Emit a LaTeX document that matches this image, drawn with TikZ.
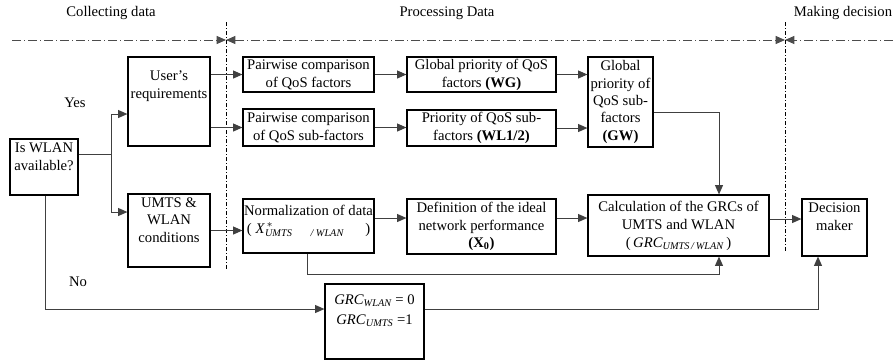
\documentclass[tikz,border=0pt]{standalone}
\usepackage{fontspec}
\setmainfont{Liberation Serif}
\usepackage{amsmath}
\usetikzlibrary{arrows.meta}

\begin{document}
\begin{tikzpicture}[x=0.75pt,y=-0.75pt,>={Triangle[length=7pt,width=6pt]},
                    font=\fontsize{11}{13.5}\selectfont,
                    box/.style={draw,line width=0.9pt,align=center,inner sep=0pt},
                    inbox/.style={anchor=north,align=center,inner sep=0pt,yshift=#1},
                    conn/.style={->,line width=0.75pt,draw=black!75},
                    phase/.style={line width=0.75pt,draw=black!70,dash pattern=on 7pt off 2pt on 1pt off 2pt},
                    border/.style={line width=0.6pt,dash pattern=on 3pt off 1.5pt on 0.75pt off 1.5pt}]

  \useasboundingbox (0,0) rectangle (893,362);

  % phases
  \node (collect) at (111,13) {Collecting data};
  \node (process) at (447,13) {Processing Data};
  \node (decide) at (843,13) {Making decision};
  \coordinate (l0) at (12,40);
  \coordinate (l1) at (226,40);
  \coordinate (l2) at (785,40);
  \coordinate (l3) at (893,40);
  \draw[phase,->] (l0) -- (l1);
  \draw[phase,<->] (l1) -- (l2);
  \draw[phase,->] (l3) -- (l2);
  \draw[border] (226,22) -- (226,270);
  \draw[border] (785,22) -- (785,252);

  % boxes
  \node[box,minimum width=51pt,minimum height=42pt,
        label={[inbox=-3pt]north:{Is WLAN\\available?}}] (wlan) at (44,167) {};
  \node[box,minimum width=61.5pt,minimum height=66.75pt,
        label={[inbox=-10.5pt]north:{User's\\requirements}}] (req) at (169,101.5) {};
  \node[box,minimum width=61.5pt,minimum height=54.75pt,
        label={[inbox=-3pt,font=\fontsize{11}{13}\selectfont]north:{UMTS \&\\WLAN\\conditions}}] (cond) at (169,230.5) {};
  \node[box,minimum width=98.25pt,minimum height=26.25pt] (pwf) at (308.5,74.5) {Pairwise comparison\\of QoS factors};
  \node[box,minimum width=98.25pt,minimum height=27.75pt] (pws) at (308.5,127.5) {Pairwise comparison\\of QoS sub-factors};
  \node[box,minimum width=111.75pt,minimum height=26.25pt] (wg) at (481.5,74.5) {Global priority of QoS\\factors \textbf{(WG)}};
  \node[box,minimum width=111.75pt,minimum height=27pt] (wl) at (481.5,128) {Priority of QoS sub-\\factors \textbf{(WL1/2)}};
  \node[box,minimum width=48.75pt,minimum height=67.5pt,font=\fontsize{11}{13}\selectfont] (gw) at (620.5,102)
       {Global\\priority of\\QoS sub-\\factors\\\textbf{(GW)}};
  \node[box,minimum width=98.25pt,minimum height=40.5pt,
        label={[inbox=-4.5pt]north:{Normalization of data\\(\hspace{3pt}\textit{X}$^{\,*}_{\textit{UMTS}\hspace{14pt}\textit{/ WLAN}}$\hspace{16pt})}}] (norm) at (308.5,226) {};
  \node[box,minimum width=111.75pt,minimum height=41.25pt,font=\fontsize{11}{13}\selectfont] (ideal) at (481.5,226.5)
       {Definition of the ideal\\network performance\\\textbf{(X\textsubscript{0})}};
  \node[box,minimum width=135.75pt,minimum height=45.75pt,font=\fontsize{11}{13.5}\selectfont] (calc) at (678.5,225.5)
       {Calculation of the GRCs of\\UMTS and WLAN\\(\,\textit{GRC}$_{\textit{UMTS\,/\,WLAN}}$\,)};
  \node[box,minimum width=48.75pt,minimum height=42.75pt,
        label={[inbox=-3pt]north:{Decision\\maker}}] (dec) at (834.5,227.5) {};
  \node[box,minimum width=74.25pt,minimum height=56.25pt,
        label={[inbox=-8pt,font=\fontsize{11}{15}\selectfont]north:{\textit{GRC}$_{\textit{WLAN}}$ = 0\\\textit{GRC}$_{\textit{UMTS}}$ =1}}] (grc) at (374.5,321.5) {};

  \node (yes) at (75,103) {Yes};
  \node (no) at (78,282) {No};

  % connectors
  \coordinate (split) at (111,154);
  \coordinate (up) at (111,114);
  \coordinate (down) at (111,212);
  \draw[conn,-] (split -| wlan.east) -- (split);
  \draw[conn] (split) -- (up) -- (up -| req.west);
  \draw[conn] (split) -- (down) -- (down -| cond.west);
  \draw[conn] (req.east |- pwf) -- (pwf);
  \draw[conn] (req.east |- pws) -- (pws);
  \draw[conn] (cond.east) -- (cond.east -| norm.west);
  \draw[conn] (pwf.east) -- (pwf.east -| wg.west);
  \draw[conn] (pws.east) -- (pws.east -| wl.west);
  \draw[conn] (wg.east) -- (wg.east -| gw.west);
  \draw[conn] (wl.east) -- (wl.east -| gw.west);
  \coordinate (gwout) at (719,112);
  \draw[conn] (gwout -| gw.east) -- (gwout) -- (gwout |- calc.north);
  \coordinate (row) at (0,218);
  \coordinate (row2) at (0,219);
  \draw[conn] (row -| norm.east) -- (row -| ideal.west);
  \draw[conn] (row -| ideal.east) -- (row -| calc.west);
  \draw[conn] (row2 -| calc.east) -- (row2 -| dec.west);
  \coordinate (back) at (307,274);
  \draw[conn] (back |- norm.south) -- (back) -| (gwout |- calc.south);
  \coordinate (nopath) at (45,309);
  \draw[conn] (nopath |- wlan.south) -- (nopath) -- (nopath -| grc.west);
  \coordinate (decin) at (818,309);
  \draw[conn] (decin -| grc.east) -- (decin) -- (decin |- dec.south);
\end{tikzpicture}
\end{document}
